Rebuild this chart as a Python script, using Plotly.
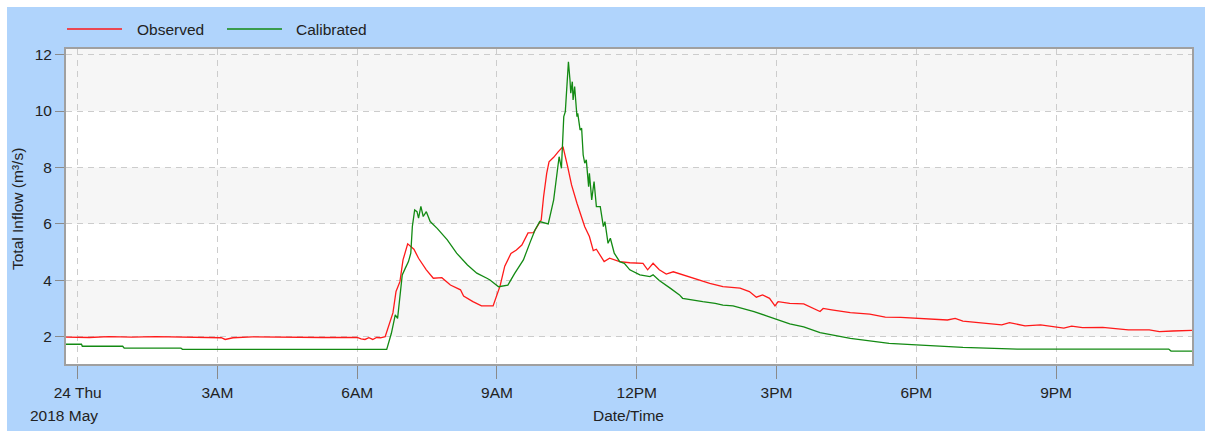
import plotly.graph_objects as go

# Observed total inflow (m3/s)
obs_time = [
    "2018-05-23 23:45", "2018-05-24 00:15", "2018-05-24 00:40", "2018-05-24 01:10",
    "2018-05-24 01:40", "2018-05-24 02:20", "2018-05-24 02:50", "2018-05-24 03:05",
    "2018-05-24 03:10", "2018-05-24 03:20", "2018-05-24 03:45", "2018-05-24 04:30",
    "2018-05-24 05:15", "2018-05-24 05:50", "2018-05-24 06:00", "2018-05-24 06:05",
    "2018-05-24 06:10", "2018-05-24 06:15", "2018-05-24 06:20", "2018-05-24 06:25",
    "2018-05-24 06:30", "2018-05-24 06:36", "2018-05-24 06:46", "2018-05-24 06:50",
    "2018-05-24 06:55", "2018-05-24 06:59", "2018-05-24 07:05", "2018-05-24 07:13",
    "2018-05-24 07:19", "2018-05-24 07:29", "2018-05-24 07:38", "2018-05-24 07:49",
    "2018-05-24 08:00", "2018-05-24 08:13", "2018-05-24 08:17", "2018-05-24 08:29",
    "2018-05-24 08:40", "2018-05-24 08:55", "2018-05-24 09:04", "2018-05-24 09:10",
    "2018-05-24 09:18", "2018-05-24 09:25", "2018-05-24 09:32", "2018-05-24 09:40",
    "2018-05-24 09:47", "2018-05-24 09:53", "2018-05-24 09:57", "2018-05-24 10:00",
    "2018-05-24 10:04", "2018-05-24 10:07", "2018-05-24 10:13", "2018-05-24 10:19",
    "2018-05-24 10:25", "2018-05-24 10:31", "2018-05-24 10:36", "2018-05-24 10:43",
    "2018-05-24 10:47", "2018-05-24 10:53", "2018-05-24 10:59", "2018-05-24 11:04",
    "2018-05-24 11:08", "2018-05-24 11:18", "2018-05-24 11:25", "2018-05-24 11:38",
    "2018-05-24 11:51", "2018-05-24 12:08", "2018-05-24 12:14", "2018-05-24 12:21",
    "2018-05-24 12:29", "2018-05-24 12:38", "2018-05-24 12:47", "2018-05-24 12:59",
    "2018-05-24 13:17", "2018-05-24 13:34", "2018-05-24 13:51", "2018-05-24 14:13",
    "2018-05-24 14:25", "2018-05-24 14:34", "2018-05-24 14:42", "2018-05-24 14:51",
    "2018-05-24 14:58", "2018-05-24 15:02", "2018-05-24 15:17", "2018-05-24 15:35",
    "2018-05-24 15:56", "2018-05-24 16:00", "2018-05-24 16:11", "2018-05-24 16:35",
    "2018-05-24 17:00", "2018-05-24 17:20", "2018-05-24 17:40", "2018-05-24 18:00",
    "2018-05-24 18:20", "2018-05-24 18:40", "2018-05-24 18:50", "2018-05-24 19:00",
    "2018-05-24 19:30", "2018-05-24 19:50", "2018-05-24 20:00", "2018-05-24 20:20",
    "2018-05-24 20:40", "2018-05-24 21:00", "2018-05-24 21:10", "2018-05-24 21:20",
    "2018-05-24 21:34", "2018-05-24 22:00", "2018-05-24 22:33", "2018-05-24 23:00",
    "2018-05-24 23:13", "2018-05-24 23:30", "2018-05-24 23:55",
]
obs_flow = [
    1.98, 1.97, 2.00, 1.98,
    2.00, 1.98, 1.97, 1.96,
    1.90, 1.96, 1.99, 1.97,
    1.97, 1.97, 1.97, 1.92,
    1.90, 1.96, 1.90, 1.97,
    1.96, 2.00, 2.84, 3.60,
    3.95, 4.72, 5.29, 5.10,
    4.78, 4.37, 4.07, 4.09,
    3.83, 3.66, 3.44, 3.24,
    3.09, 3.09, 3.80, 4.50,
    4.95, 5.07, 5.25, 5.68,
    5.69, 5.96, 6.14, 6.96,
    7.79, 8.20, 8.36, 8.56,
    8.74, 8.03, 7.38, 6.73,
    6.38, 5.90, 5.55, 5.05,
    5.10, 4.66, 4.78, 4.66,
    4.62, 4.60, 4.37, 4.60,
    4.37, 4.22, 4.30, 4.19,
    4.03, 3.89, 3.77, 3.72,
    3.60, 3.40, 3.48, 3.36,
    3.09, 3.24, 3.18, 3.16,
    2.89, 3.00, 2.95, 2.85,
    2.80, 2.69, 2.68, 2.65,
    2.64, 2.59, 2.65, 2.55,
    2.47, 2.42, 2.50, 2.38,
    2.42, 2.35, 2.30, 2.37,
    2.32, 2.33, 2.24, 2.24,
    2.18, 2.20, 2.22,
]

# Calibrated model total inflow (m3/s)
cal_time = [
    "2018-05-23 23:45", "2018-05-24 00:05", "2018-05-24 00:06", "2018-05-24 00:58",
    "2018-05-24 01:00", "2018-05-24 02:13", "2018-05-24 02:15", "2018-05-24 06:38",
    "2018-05-24 06:44", "2018-05-24 06:49", "2018-05-24 06:52", "2018-05-24 06:55",
    "2018-05-24 06:58", "2018-05-24 07:02", "2018-05-24 07:06", "2018-05-24 07:09",
    "2018-05-24 07:11", "2018-05-24 07:14", "2018-05-24 07:17", "2018-05-24 07:19",
    "2018-05-24 07:22", "2018-05-24 07:25", "2018-05-24 07:29", "2018-05-24 07:34",
    "2018-05-24 07:43", "2018-05-24 07:56", "2018-05-24 08:08", "2018-05-24 08:22",
    "2018-05-24 08:34", "2018-05-24 08:47", "2018-05-24 08:51", "2018-05-24 09:02",
    "2018-05-24 09:14", "2018-05-24 09:23", "2018-05-24 09:34", "2018-05-24 09:43",
    "2018-05-24 09:49", "2018-05-24 09:55", "2018-05-24 10:06", "2018-05-24 10:13",
    "2018-05-24 10:17", "2018-05-24 10:20", "2018-05-24 10:23", "2018-05-24 10:26",
    "2018-05-24 10:28", "2018-05-24 10:31", "2018-05-24 10:32", "2018-05-24 10:34",
    "2018-05-24 10:35", "2018-05-24 10:37", "2018-05-24 10:38", "2018-05-24 10:40",
    "2018-05-24 10:43", "2018-05-24 10:44", "2018-05-24 10:47", "2018-05-24 10:49",
    "2018-05-24 10:51", "2018-05-24 10:53", "2018-05-24 10:55", "2018-05-24 10:58",
    "2018-05-24 10:59", "2018-05-24 11:02", "2018-05-24 11:05", "2018-05-24 11:08",
    "2018-05-24 11:13", "2018-05-24 11:17", "2018-05-24 11:19", "2018-05-24 11:23",
    "2018-05-24 11:26", "2018-05-24 11:31", "2018-05-24 11:35", "2018-05-24 11:38",
    "2018-05-24 11:44", "2018-05-24 11:51", "2018-05-24 12:04", "2018-05-24 12:17",
    "2018-05-24 12:21", "2018-05-24 12:25", "2018-05-24 12:29", "2018-05-24 12:43",
    "2018-05-24 12:55", "2018-05-24 12:59", "2018-05-24 13:11", "2018-05-24 13:25",
    "2018-05-24 13:41", "2018-05-24 13:51", "2018-05-24 14:04", "2018-05-24 14:17",
    "2018-05-24 14:31", "2018-05-24 14:47", "2018-05-24 14:59", "2018-05-24 15:17",
    "2018-05-24 15:35", "2018-05-24 15:56", "2018-05-24 16:35", "2018-05-24 17:25",
    "2018-05-24 18:00", "2018-05-24 19:00", "2018-05-24 20:10", "2018-05-24 23:25",
    "2018-05-24 23:28", "2018-05-24 23:55",
]
cal_flow = [
    1.73, 1.73, 1.66, 1.66,
    1.59, 1.59, 1.55, 1.55,
    2.12, 2.77, 2.65, 3.54,
    4.19, 4.43, 4.66, 4.96,
    5.90, 6.49, 6.43, 6.20,
    6.62, 6.26, 6.43, 6.08,
    5.84, 5.43, 4.96, 4.54,
    4.25, 4.07, 4.01, 3.77,
    3.83, 4.25, 4.72, 5.37,
    5.78, 6.08, 6.00, 6.85,
    7.79, 8.38, 7.97, 9.80,
    9.98, 11.22, 11.75, 11.10,
    10.63, 11.04, 10.39, 10.87,
    9.80, 9.92, 9.33, 9.39,
    8.44, 8.15, 8.27, 7.32,
    7.79, 6.85, 7.50, 6.61,
    6.61, 5.90, 6.08, 5.31,
    5.49, 4.96, 4.78, 4.66,
    4.60, 4.37, 4.19, 4.13,
    4.19, 4.10, 3.99, 3.72,
    3.48, 3.36, 3.30, 3.24,
    3.18, 3.12, 3.09, 3.00,
    2.89, 2.74, 2.63, 2.45,
    2.35, 2.14, 1.94, 1.76,
    1.71, 1.62, 1.56, 1.56,
    1.49, 1.49,
]

tick_times = [
    "2018-05-24 00:00", "2018-05-24 03:00", "2018-05-24 06:00", "2018-05-24 09:00",
    "2018-05-24 12:00", "2018-05-24 15:00", "2018-05-24 18:00", "2018-05-24 21:00",
]
tick_labels = ["24 Thu", "3AM", "6AM", "9AM", "12PM", "3PM", "6PM", "9PM"]
y_ticks = [2, 4, 6, 8, 10, 12]

FONT = "Liberation Sans, Arial, sans-serif"
TEXT = "#222222"
BLUE = "#b0d4fc"
RED = "#ff1a1a"
GREEN = "#138a13"

W, H = 1205, 431
ML, MR, MT, MB = 66, 13, 49, 67
PW, PH = W - ML - MR, H - MT - MB


def px(x):
    return (x - ML) / PW


def py(y):
    return (H - MB - y) / PH


fig = go.Figure()
fig.add_trace(go.Scatter(x=obs_time, y=obs_flow, mode="lines", name="Observed",
                         line=dict(color=RED, width=1.3)))
fig.add_trace(go.Scatter(x=cal_time, y=cal_flow, mode="lines", name="Calibrated",
                         line=dict(color=GREEN, width=1.3)))

shapes = [
    # thin white border along the top and left edges of the blue frame
    dict(type="rect", xref="paper", yref="paper", x0=px(-5), x1=px(W + 5),
         y0=py(7), y1=py(-5), fillcolor="white", line=dict(width=0), layer="below"),
    dict(type="rect", xref="paper", yref="paper", x0=px(-5), x1=px(7),
         y0=py(H + 5), y1=py(-5), fillcolor="white", line=dict(width=0), layer="below"),
]
# alternating shaded bands
for lo, hi in [(2, 4), (6, 8), (10, 12.2)]:
    shapes.append(dict(type="rect", xref="paper", yref="y", x0=0, x1=1, y0=lo, y1=hi,
                       fillcolor="#f6f6f6", line=dict(width=0), layer="below"))

# legend drawn as line samples with labels
legend_items = [("Observed", RED, 67, 122, 135), ("Calibrated", GREEN, 227, 282, 294)]
annotations = []
for label, color, x0, x1, xt in legend_items:
    shapes.append(dict(type="line", xref="paper", yref="paper", x0=px(x0), x1=px(x1),
                       y0=py(29), y1=py(29), line=dict(color=color, width=1.5)))
    annotations.append(dict(text=label, xref="paper", yref="paper", x=px(xt), y=py(29),
                            xanchor="left", yanchor="middle", showarrow=False,
                            font=dict(family=FONT, size=15.5, color=TEXT)))

annotations.append(dict(text="2018 May", xref="paper", yref="paper", x=px(64), y=py(415),
                        xanchor="center", yanchor="middle", showarrow=False,
                        font=dict(family=FONT, size=15.5, color=TEXT)))
annotations.append(dict(text="Date/Time", xref="paper", yref="paper", x=px(628), y=py(415),
                        xanchor="center", yanchor="middle", showarrow=False,
                        font=dict(family=FONT, size=15.5, color=TEXT)))
annotations.append(dict(text="Total Inflow (m³/s)", xref="paper", yref="paper",
                        x=px(17), y=py(209), textangle=-90,
                        xanchor="center", yanchor="middle", showarrow=False,
                        font=dict(family=FONT, size=15.5, color=TEXT)))

fig.update_layout(
    width=W, height=H,
    margin=dict(l=ML, r=MR, t=MT, b=MB, pad=0),
    paper_bgcolor=BLUE,
    plot_bgcolor="white",
    showlegend=False,
    font=dict(family=FONT, size=15.5, color=TEXT),
    shapes=shapes,
    annotations=annotations,
    xaxis=dict(
        range=["2018-05-23 23:45", "2018-05-24 23:55"],
        tickmode="array", tickvals=tick_times, ticktext=tick_labels,
        ticks="outside", ticklen=13, tickcolor="#8a8a8a", tickwidth=1,
        showgrid=True, gridcolor="#cccccc", griddash="6px,5px", gridwidth=1,
        showline=True, linecolor="#a0a0a0", linewidth=2, mirror=True,
        zeroline=False,
        automargin=False,
    ),
    yaxis=dict(
        range=[1.03, 12.2],
        tickmode="array", tickvals=y_ticks,
        ticks="outside", ticklen=9, tickcolor="#8a8a8a", tickwidth=1,
        showgrid=True, gridcolor="#cccccc", griddash="6px,5px", gridwidth=1,
        showline=True, linecolor="#a0a0a0", linewidth=2, mirror=True,
        zeroline=False,
        automargin=False,
    ),
)

fig.write_html("out.html", config=dict(displayModeBar=False))
